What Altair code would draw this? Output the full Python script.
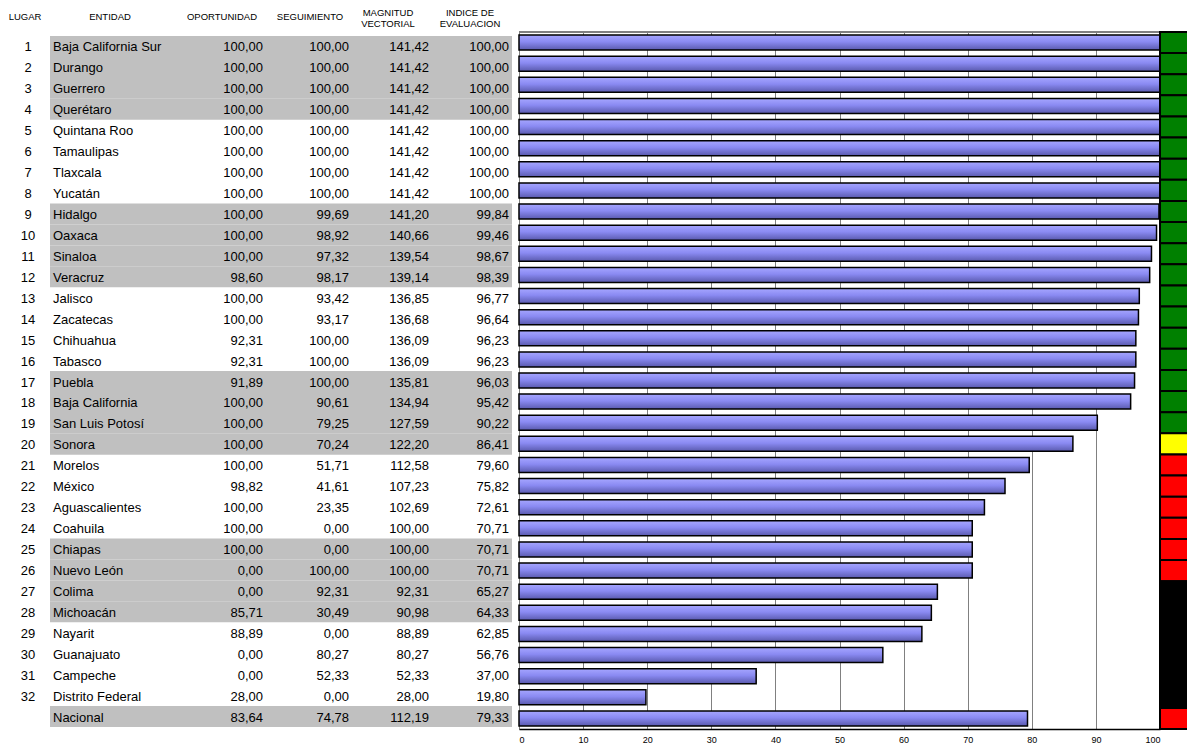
import altair as alt
import pandas as pd

lugar = [str(i) for i in range(1, 33)] + [""]
entidad = ["Baja California Sur", "Durango", "Guerrero", "Querétaro", "Quintana Roo", "Tamaulipas",
           "Tlaxcala", "Yucatán", "Hidalgo", "Oaxaca", "Sinaloa", "Veracruz", "Jalisco", "Zacatecas",
           "Chihuahua", "Tabasco", "Puebla", "Baja California", "San Luis Potosí", "Sonora", "Morelos",
           "México", "Aguascalientes", "Coahuila", "Chiapas", "Nuevo León", "Colima", "Michoacán",
           "Nayarit", "Guanajuato", "Campeche", "Distrito Federal", "Nacional"]
oportunidad = [100, 100, 100, 100, 100, 100, 100, 100, 100, 100, 100, 98.60, 100, 100, 92.31, 92.31,
               91.89, 100, 100, 100, 100, 98.82, 100, 100, 100, 0, 0, 85.71, 88.89, 0, 0, 28.00, 83.64]
seguimiento = [100, 100, 100, 100, 100, 100, 100, 100, 99.69, 98.92, 97.32, 98.17, 93.42, 93.17, 100, 100,
               100, 90.61, 79.25, 70.24, 51.71, 41.61, 23.35, 0, 0, 100, 92.31, 30.49, 0, 80.27, 52.33, 0, 74.78]
magnitud = [141.42, 141.42, 141.42, 141.42, 141.42, 141.42, 141.42, 141.42, 141.20, 140.66, 139.54, 139.14,
            136.85, 136.68, 136.09, 136.09, 135.81, 134.94, 127.59, 122.20, 112.58, 107.23, 102.69, 100,
            100, 100, 92.31, 90.98, 88.89, 80.27, 52.33, 28.00, 112.19]
indice = [100, 100, 100, 100, 100, 100, 100, 100, 99.84, 99.46, 98.67, 98.39, 96.77, 96.64, 96.23, 96.23,
          96.03, 95.42, 90.22, 86.41, 79.60, 75.82, 72.61, 70.71, 70.71, 70.71, 65.27, 64.33, 62.85, 56.76,
          37.00, 19.80, 79.33]
estado = ["verde"] * 19 + ["amarillo"] + ["rojo"] * 6 + ["negro"] * 6 + ["rojo"]
sombreado = [1, 1, 1, 1, 0, 0, 0, 0, 1, 1, 1, 1, 0, 0, 0, 0, 1, 1, 1, 1, 0, 0, 0, 0, 1, 1, 1, 1,
             0, 0, 0, 0, 1]

headers = [("LUGAR", None), ("ENTIDAD", None), ("OPORTUNIDAD", None), ("SEGUIMIENTO", None),
           ("MAGNITUD", "VECTORIAL"), ("INDICE DE", "EVALUACION")]


def fmt(v):
    return f"{v:.2f}".replace(".", ",")


df = pd.DataFrame({
    "row": list(range(33)),
    "lugar": lugar,
    "entidad": entidad,
    "op": [fmt(v) for v in oportunidad],
    "se": [fmt(v) for v in seguimiento],
    "ma": [fmt(v) for v in magnitud],
    "ind_txt": [fmt(v) for v in indice],
    "indice": indice,
    "estado": estado,
    "gris": sombreado,
})

FONT = "Liberation Sans"
W, H = 1179, 697
X0, X100 = 511, 1152
ROWS = list(range(33))

# table rows (text + shading) and chart rows (bars + status) use their own band scales
ytab = alt.Y("row:O", scale=alt.Scale(domain=ROWS, range=[4, 695], paddingInner=0, paddingOuter=0), axis=None)
ybar = alt.Y("row:O", scale=alt.Scale(domain=ROWS, range=[0, H], paddingInner=0, paddingOuter=0), axis=None)
base = alt.Chart(df)

gray = base.transform_filter("datum.gris == 1").mark_rect(color="#c0c0c0").encode(
    y=ytab, x=alt.value(42), x2=alt.value(504))

txt = dict(font=FONT, fontSize=13, color="black", baseline="middle", dy=1)
t_lugar = base.mark_text(align="center", **txt).encode(y=ytab, x=alt.value(20), text="lugar:N")
t_ent = base.mark_text(align="left", **txt).encode(y=ytab, x=alt.value(45), text="entidad:N")
t_op = base.mark_text(align="right", **txt).encode(y=ytab, x=alt.value(255), text="op:N")
t_se = base.mark_text(align="right", **txt).encode(y=ytab, x=alt.value(341), text="se:N")
t_ma = base.mark_text(align="right", **txt).encode(y=ytab, x=alt.value(421), text="ma:N")
t_in = base.mark_text(align="right", **txt).encode(y=ytab, x=alt.value(501), text="ind_txt:N")

table = alt.layer(gray, t_lugar, t_ent, t_op, t_se, t_ma, t_in)

top_rule = base.mark_rule(color="#808080", strokeWidth=2).encode(
    x=alt.value(X0), x2=alt.value(X100), y=alt.value(0))

grad = alt.Gradient(gradient="linear", x1=0, x2=0, y1=0, y2=1,
                    stops=[alt.GradientStop(offset=0, color="#a6a6ff"),
                           alt.GradientStop(offset=0.45, color="#8a8af2"),
                           alt.GradientStop(offset=1, color="#5a5aae")])

bars = base.mark_bar(size=15, color=grad, stroke="black", strokeWidth=1.5).encode(
    y=ybar,
    x=alt.X("indice:Q",
            scale=alt.Scale(domain=[0, 100], range=[X0, X100], nice=False, zero=True),
            axis=alt.Axis(values=list(range(0, 101, 10)), title=None, grid=True,
                          gridColor="#808080", gridWidth=1, domainColor="black", domainWidth=1.5,
                          tickSize=0, labelPadding=6, labelFontSize=9, labelFont=FONT,
                          labelColor="black", format="d")),
)

status = base.mark_rect(stroke="black", strokeWidth=2).encode(
    y=ybar, x=alt.value(X100), x2=alt.value(W + 6),
    fill=alt.Fill("estado:N",
                  scale=alt.Scale(domain=["verde", "amarillo", "rojo", "negro"],
                                  range=["#008000", "#ffff00", "#ff0000", "#000000"]),
                  legend=None))

graph = alt.layer(top_rule, bars, status)

hx = [17, 102, 214, 302, 380, 462]
hlayers = []
for (a, b), x in zip(headers, hx):
    if b is None:
        hlayers.append(alt.Chart(pd.DataFrame({"t": [a]})).mark_text(
            font=FONT, fontSize=9.5, color="black", align="center", baseline="middle").encode(
            x=alt.value(x), y=alt.value(-15), text="t:N"))
    else:
        for s, yy in ((a, -19), (b, -8)):
            hlayers.append(alt.Chart(pd.DataFrame({"t": [s]})).mark_text(
                font=FONT, fontSize=9.5, color="black", align="center", baseline="middle").encode(
                x=alt.value(x), y=alt.value(yy), text="t:N"))

chart = alt.layer(table, graph, *hlayers).resolve_scale(y="independent").properties(
    width=W, height=H,
    autosize=alt.AutoSizeParams(type="none"),
    padding={"left": 0, "top": 24, "right": 0, "bottom": 18},
).configure_view(stroke=None)

chart.save("out.html", embed_options={"renderer": "svg", "actions": False})
